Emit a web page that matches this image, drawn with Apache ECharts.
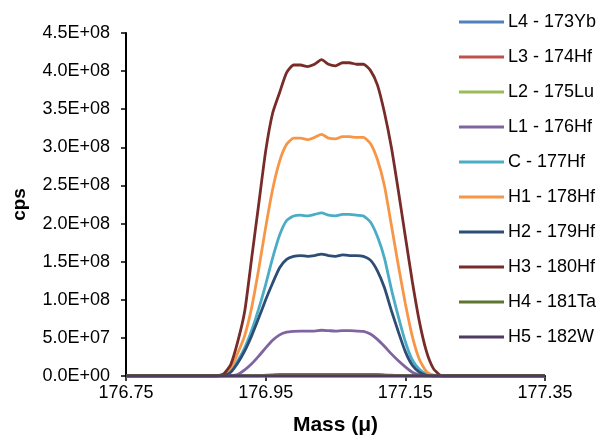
<!DOCTYPE html>
<html lang="en">
<head>
    <meta charset="UTF-8">
    <title>Hf peak scan</title>
    <style>
        html, body { margin: 0; padding: 0; background: #fff; }
    </style>
</head>
<body>
<div id="chart" style="width: 598px; height: 435px;"></div>
<script type="text/javascript" src="https://cdn.jsdelivr.net/npm/echarts@6/dist/echarts.min.js"></script>
<script type="text/javascript">
// mass scan positions (u)
var mass = [176.75, 176.80, 176.85, 176.88, 176.89, 176.90, 176.91, 176.92, 176.93, 176.94,
            176.95, 176.96, 176.97, 176.98, 176.99, 177.00, 177.01, 177.02, 177.03, 177.04,
            177.05, 177.06, 177.07, 177.08, 177.09, 177.10, 177.11, 177.12, 177.13, 177.14,
            177.15, 177.16, 177.17, 177.18, 177.19, 177.20, 177.21, 177.25, 177.30, 177.35];

// intensities in millions of cps, one per mass above
var l4 = [0,0,0,0,0,0,0,0,0,0, 0,0,0,0,0,0,0,0,0,0, 0,0,0,0,0,0,0,0,0,0, 0,0,0,0,0,0,0,0,0,0];
var l3 = [0,0,0,0,0,0,0,0,0,0, 1,1.5,2,2,2,2,2,2,2,2, 2,2,2,2,2,2,2,1.5,1,0.5, 0,0,0,0,0,0,0,0,0,0];
var l2 = [0,0,0,0,0,0,0,0,0,0, 0,0,0,0,0,0,0,0,0,0, 0,0,0,0,0,0,0,0,0,0, 0,0,0,0,0,0,0,0,0,0];
var l1 = [0,0,0,0, 0,0.5,2,8,16,26, 37,47,54,57.5,58.5,59,59,59,60,59.5, 59,59.5,59.5,59,58.5,55,48,39,29,20, 12,5,1.5,0,0,0,0,0,0,0];
var c  = [0,0,0,0, 1,7,20,37,60,88, 120,155,185,204,210,211,210,212,214,211, 210,212,212,211,210,202,183,155,114,78, 45,21,9,3,1,0,0,0,0,0];
var h1 = [0,0,0,0, 2,10,30,53,90,140, 195,245,282,304,312,312,310,313,317,312, 311,314,314,313,313,305,284,250,198,145, 95,52,22,6,1,0,0,0,0,0];
var h2 = [0,0,0,0, 1,5,17,33,53,76, 100,122,142,153,157,158,157,158,160,158, 157,159,158,158,157,152,138,116,86,58, 32,14,5,1,0,0,0,0,0,0];
var h3 = [0,0,0,0, 3,15,45,85,155,225, 295,345,372,398,408,408,406,409,415,409, 407,411,411,409,409,401,382,346,300,243, 183,124,72,33,10,1,0,0,0,0];
var h4 = [0,0,0,0,0,0,0,0,0,0, 0,0,0,0,0,0,0,0,0,0, 0,0,0,0,0,0,0,0,0,0, 0,0,0,0,0,0,0,0,0,0];
var h5 = [0,0,0,0,0,0,0,0,0,0, 0,0,0,0,0,0,0,0,0,0, 0,0,0,0,0,0,0,0,0,0, 0,0,0,0,0,0,0,0,0,0];

var names = ['L4 - 173Yb', 'L3 - 174Hf', 'L2 - 175Lu', 'L1 - 176Hf', 'C - 177Hf',
             'H1 - 178Hf', 'H2 - 179Hf', 'H3 - 180Hf', 'H4 - 181Ta', 'H5 - 182W'];
var colors = ['#4F81BD', '#C0504D', '#9BBB59', '#8064A2', '#4BACC6',
              '#F79646', '#2C4D75', '#772C2A', '#5F7530', '#4D3B62'];
var xTicks = [176.75, 176.95, 177.15, 177.35];

var allData = [l4, l3, l2, l1, c, h1, h2, h3, h4, h5];
var font = 'Liberation Sans, Arial, sans-serif';

function sci(v) {
    var parts = v.toExponential(1).split('e');
    var e = parseInt(parts[1], 10);
    var sign = e < 0 ? '-' : '+';
    e = Math.abs(e);
    return parts[0] + 'E' + sign + (e < 10 ? '0' + e : e);
}

var series = allData.map(function (arr, k) {
    return {
        name: names[k],
        type: 'line',
        showSymbol: false,
        smooth: 0.2,
        data: arr.map(function (v, i) { return [mass[i], v * 1e6]; }),
        lineStyle: { width: 2.8, color: colors[k] },
        itemStyle: { color: colors[k] }
    };
});

var myChart = echarts.init(document.getElementById('chart'));
var option = {
    animation: false,
    textStyle: { fontFamily: font },
    grid: { left: 126, right: 53, top: 33, bottom: 59, outerBoundsMode: 'none', containLabel: false },
    legend: {
        orient: 'vertical',
        left: 454,
        top: 8,
        icon: 'rect',
        itemWidth: 45,
        itemHeight: 3,
        itemGap: 17,
        data: names,
        textStyle: { fontSize: 18, color: '#000', fontFamily: font, padding: [0, 0, 0, -1] }
    },
    xAxis: {
        type: 'value',
        min: 176.75,
        max: 177.35,
        name: 'Mass (\u03bc)',
        nameLocation: 'middle',
        nameGap: 39,
        nameTextStyle: { fontSize: 21, fontWeight: 'bold', color: '#000', fontFamily: font },
        axisLine: { lineStyle: { color: '#000', width: 2 } },
        axisTick: { show: true, length: 5, customValues: xTicks, lineStyle: { color: '#000', width: 1.5 } },
        axisLabel: {
            customValues: xTicks,
            margin: 8,
            fontSize: 18,
            color: '#000',
            formatter: function (v) { return v.toFixed(2); }
        },
        splitLine: { show: false }
    },
    yAxis: {
        type: 'value',
        min: 0,
        max: 4.5e8,
        interval: 5e7,
        name: 'cps',
        nameLocation: 'middle',
        nameGap: 97,
        nameTextStyle: { fontSize: 19, fontWeight: 'bold', color: '#000', fontFamily: font },
        axisLine: { show: true, lineStyle: { color: '#000', width: 2 } },
        axisTick: { show: true, length: 5, lineStyle: { color: '#000', width: 1.5 } },
        axisLabel: { margin: 16, fontSize: 18, color: '#000', formatter: sci },
        splitLine: { show: false }
    },
    series: series
};
myChart.setOption(option);
</script>
</body>
</html>
